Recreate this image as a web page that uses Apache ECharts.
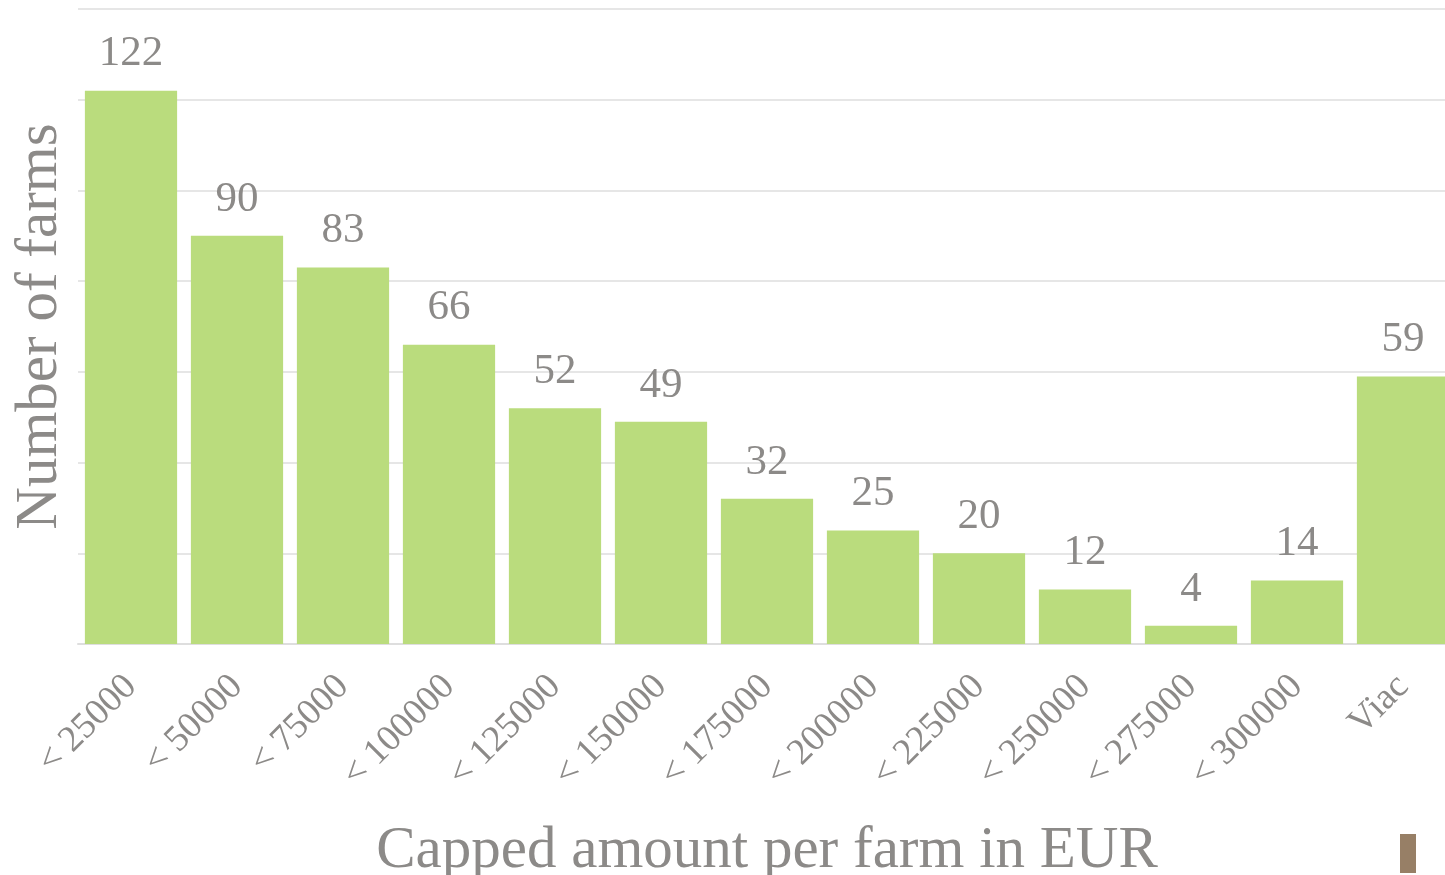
<!DOCTYPE html>
<html>
<head>
<meta charset="utf-8">
<script src="https://cdn.jsdelivr.net/npm/echarts@6/dist/echarts.min.js"></script>
<style>
  html, body { margin: 0; padding: 0; background: #ffffff; }
  #chart { width: 1445px; height: 875px; }
</style>
</head>
<body>
<div id="chart"></div>
<script>
// Capping bands (EUR) and the number of farms falling in each band
const categories = ['< 25000', '< 50000', '< 75000', '< 100000', '< 125000', '< 150000',
  '< 175000', '< 200000', '< 225000', '< 250000', '< 275000', '< 300000', 'Viac'];
const farms = [122, 90, 83, 66, 52, 49, 32, 25, 20, 12, 4, 14, 59];

const textColor = '#8c8a88';
const serif = '"Liberation Serif", "DejaVu Serif", serif';

const chart = echarts.init(document.getElementById('chart'));
chart.setOption({
  animation: false,
  grid: { left: 78, top: 9, width: 1378, height: 635, containLabel: false, outerBoundsMode: 'none' },
  xAxis: {
    type: 'category',
    data: categories,
    name: 'Capped amount per farm in EUR',
    nameLocation: 'middle',
    nameGap: 178,
    nameTextStyle: { fontFamily: serif, fontSize: 59, color: textColor },
    axisLine: { show: true, lineStyle: { color: '#dedede', width: 2 } },
    axisTick: { show: false },
    axisLabel: {
      rotate: 45, interval: 0, margin: 37,
      fontFamily: serif, fontSize: 37, color: textColor
    }
  },
  yAxis: {
    type: 'value',
    min: 0, max: 140, interval: 20,
    name: 'Number of farms',
    nameLocation: 'middle',
    nameGap: 8,
    nameTextStyle: { fontFamily: serif, fontSize: 59, color: textColor },
    axisLine: { show: false },
    axisTick: { show: false },
    axisLabel: { show: false },
    splitLine: { lineStyle: { color: '#e6e6e6', width: 2 } }
  },
  series: [{
    type: 'bar',
    data: farms,
    barCategoryGap: '13%',
    itemStyle: { color: '#badc7d' },
    label: {
      show: true, position: 'top', distance: 15,
      fontFamily: serif, fontSize: 43, color: textColor
    }
  }],
  graphic: [{
    type: 'rect',
    shape: { x: 1400, y: 834, width: 16, height: 39 },
    style: { fill: '#977f66' }
  }]
});
</script>
</body>
</html>
